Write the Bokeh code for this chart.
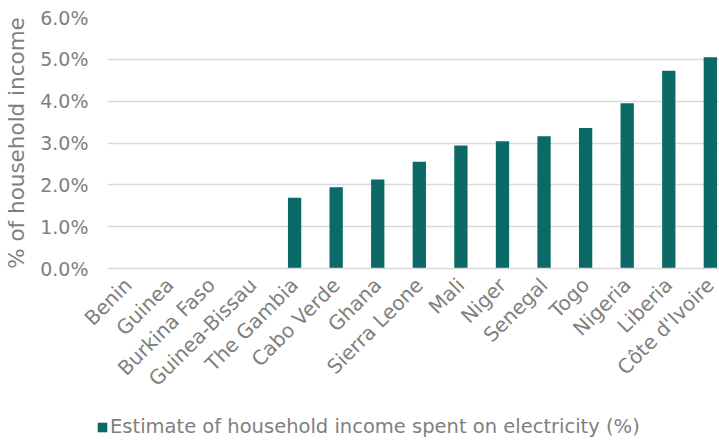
import math
from bokeh.plotting import figure
from bokeh.models import (Range1d, FixedTicker, PrintfTickFormatter, Legend,
                          LegendItem, ColumnDataSource)
from bokeh.embed import file_html
from bokeh.resources import INLINE

countries = ["Benin", "Guinea", "Burkina Faso", "Guinea-Bissau", "The Gambia",
             "Cabo Verde", "Ghana", "Sierra Leone", "Mali", "Niger", "Senegal",
             "Togo", "Nigeria", "Liberia", "Côte d'Ivoire"]
share_pct = [0, 0, 0, 0, 1.69, 1.94, 2.13, 2.55, 2.94, 3.04, 3.16, 3.36,
             3.95, 4.73, 5.05]
y_ticks = [0, 1, 2, 3, 4, 5, 6]
series_name = "Estimate of household income spent on electricity (%)"
y_title = "% of household income"

BAR = "#0b6a65"
GREY = "#7f7f7f"
GRID = "#d9d9d9"
FONT = "DejaVu Sans"

xs = list(range(len(countries)))
src = ColumnDataSource(dict(x=xs, top=share_pct, name=countries))

p = figure(width=719, height=440, output_backend="svg", toolbar_location=None,
           x_range=Range1d(-0.5, 14.22), y_range=Range1d(0, 6))
p.frame_width = 612
p.frame_height = 251
p.min_border_top = 17
p.min_border_right = 0
p.min_border_left = 107
p.min_border_bottom = 0
p.outline_line_color = None
p.background_fill_color = "white"
p.border_fill_color = "white"

r = p.vbar(x="x", top="top", width=0.32, source=src, fill_color=BAR,
           line_color=None)

# y axis
yax = p.yaxis[0]
yax.ticker = FixedTicker(ticks=y_ticks)
yax.formatter = PrintfTickFormatter(format="%.1f%%")
yax.axis_line_color = None
yax.major_tick_line_color = None
yax.minor_tick_line_color = None
yax.major_tick_out = 0
yax.major_tick_in = 0
yax.major_label_text_color = GREY
yax.major_label_text_font = FONT
yax.major_label_text_font_size = "19px"
yax.major_label_standoff = 19
yax.axis_label = y_title
yax.axis_label_text_color = GREY
yax.axis_label_text_font = FONT
yax.axis_label_text_font_size = "21.5px"
yax.axis_label_text_font_style = "normal"
yax.axis_label_standoff = 8

# x axis
xax = p.xaxis[0]
xax.ticker = FixedTicker(ticks=xs)
xax.major_label_overrides = {i: c for i, c in enumerate(countries)}
xax.major_label_orientation = math.pi / 4
xax.axis_line_color = GRID
xax.axis_line_width = 1.5
xax.major_tick_line_color = None
xax.minor_tick_line_color = None
xax.major_tick_out = 0
xax.major_tick_in = 0
xax.major_label_text_color = GREY
xax.major_label_text_font = FONT
xax.major_label_text_font_size = "20px"
xax.major_label_standoff = 13

p.xgrid.grid_line_color = None
p.ygrid.ticker = FixedTicker(ticks=y_ticks)
p.ygrid.grid_line_color = GRID
p.ygrid.grid_line_width = 1.5

# legend: placed in a side panel (not clipped), positioned under the chart
legend = Legend(items=[LegendItem(label=series_name, renderers=[r])],
                orientation="horizontal", location=(-623, -170),
                label_text_font=FONT, label_text_font_size="19.5px",
                label_text_color=GREY, label_text_baseline="alphabetic",
                glyph_width=12, glyph_height=12, label_standoff=2,
                border_line_color=None, background_fill_alpha=0,
                padding=0, margin=0, spacing=0)
p.add_layout(legend, "right")

open("out.html", "w").write(file_html(p, INLINE))
